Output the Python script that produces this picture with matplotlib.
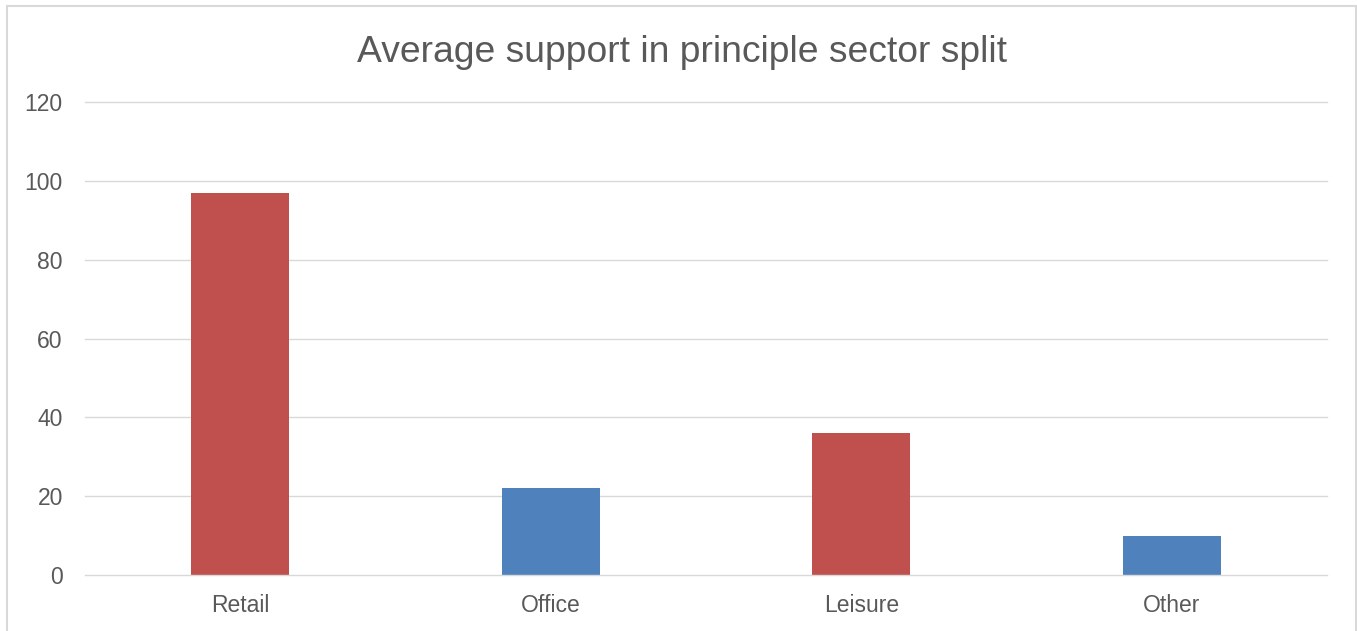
import matplotlib
matplotlib.use("Agg")
import matplotlib.pyplot as plt
from matplotlib.patches import Rectangle

categories = ["Retail", "Office", "Leisure", "Other"]
values = [97, 22, 36, 10]
bar_colors = ["#C0504D", "#4F81BD", "#C0504D", "#4F81BD"]
yticks = [0, 20, 40, 60, 80, 100, 120]
title = "Average support in principle sector split"

plt.rcParams['font.family'] = ['Liberation Sans', 'DejaVu Sans']
W, H = 1357, 631
fig = plt.figure(figsize=(W/100, H/100), dpi=100)
ax = fig.add_axes([85/W, 56/H, (1327-85)/W, (575-102)/H])

x = list(range(len(categories)))
ax.bar(x, values, width=0.316, color=bar_colors, zorder=3)
ax.set_xlim(-0.5, len(categories) - 0.5)
ax.set_ylim(0, 120)
ax.set_yticks(yticks)
ax.set_yticklabels([str(t) for t in yticks])
ax.set_xticks(x)
ax.set_xticklabels(categories)
for t in yticks:
    ax.axhline(t, color="#d9d9d9", linewidth=1.0, zorder=4 if t == 0 else 1, clip_on=False)
for s in ax.spines.values():
    s.set_visible(False)
ax.tick_params(axis='both', length=0, colors="#595959", labelsize=16.5)
ax.tick_params(axis='y', pad=16)
ax.tick_params(axis='x', pad=13.5)

fig.text(682/W, (H-62)/H, title, ha='center', va='baseline', fontsize=26.8, color="#595959")

fig.patches.append(Rectangle((6.5/W, -0.05), (1355.5-6.5)/W, 1.05 - 6.5/H,
                             transform=fig.transFigure, fill=False,
                             edgecolor="#d9d9d9", linewidth=1.5))

fig.savefig("out.png", dpi=100)
